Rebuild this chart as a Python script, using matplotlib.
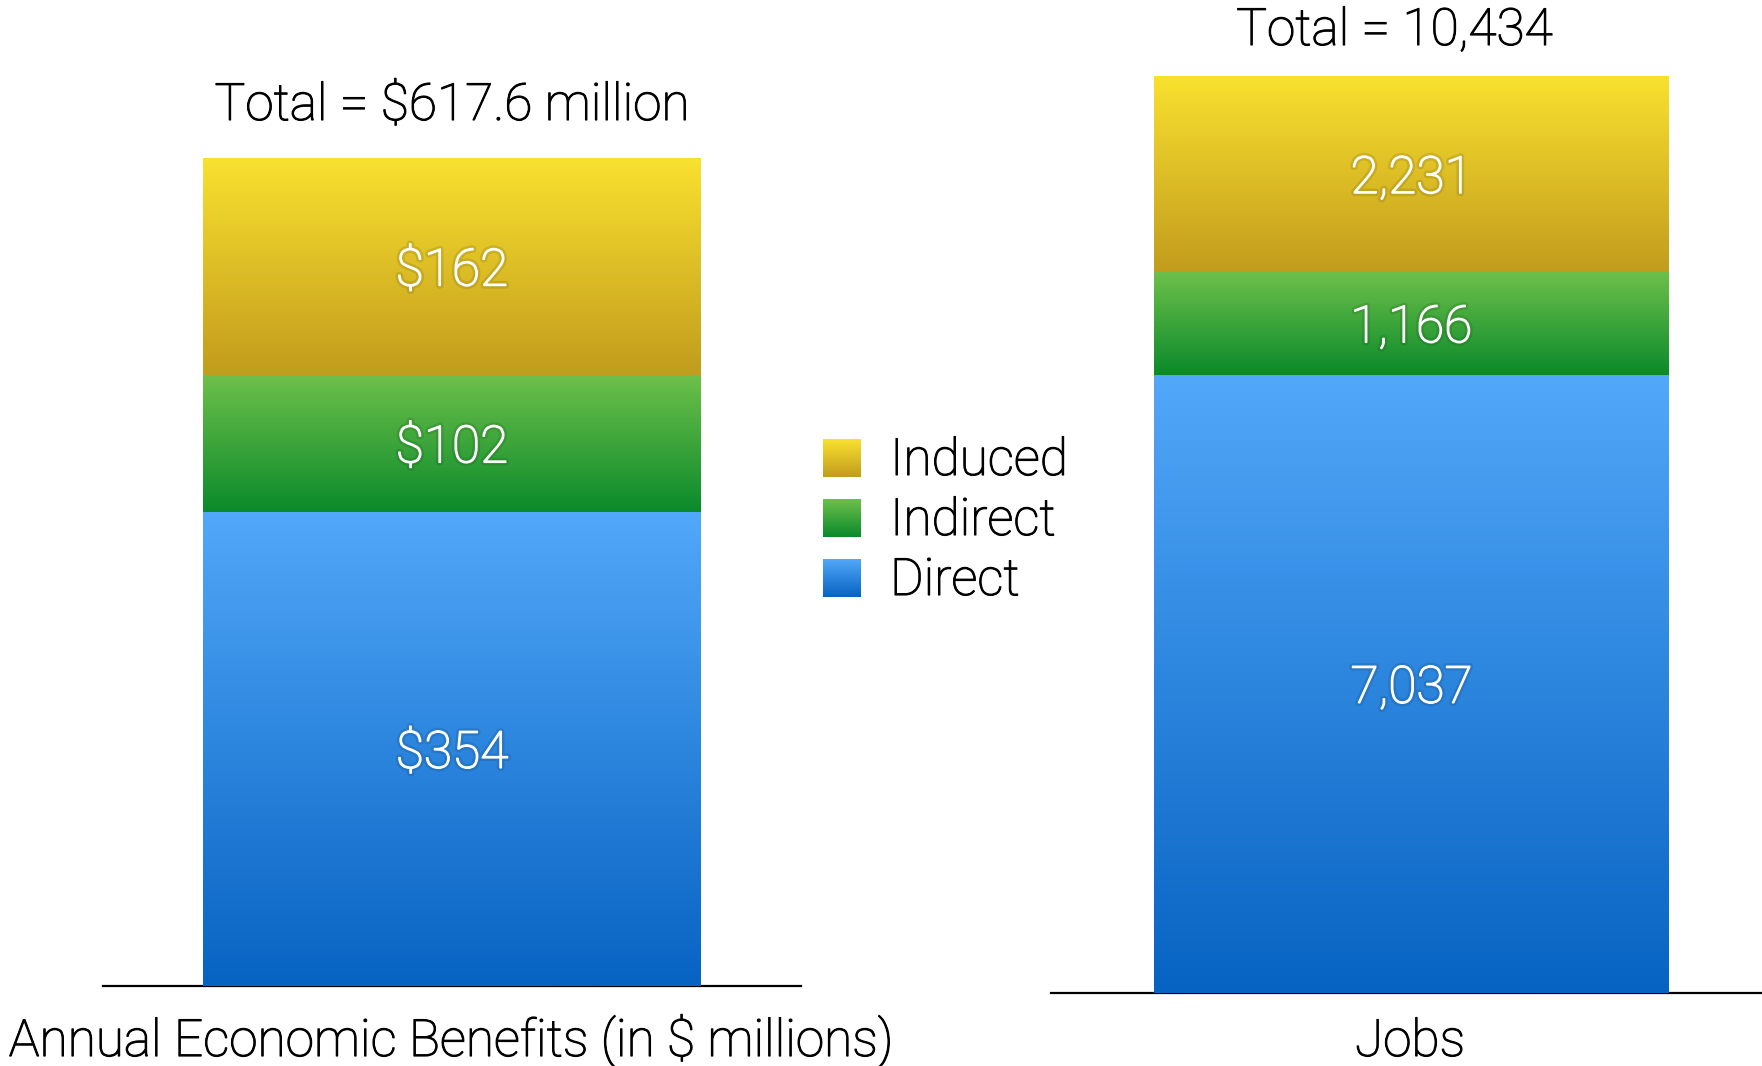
import numpy as np
import matplotlib
matplotlib.use("Agg")
import matplotlib.pyplot as plt
from matplotlib.colors import LinearSegmentedColormap
import matplotlib.patheffects as pe

# ---------------- data ----------------
categories = ["Direct", "Indirect", "Induced"]
benefits = [354, 102, 162]
benefit_labels = ["$354", "$102", "$162"]
jobs = [7037, 1166, 2231]
job_labels = ["7,037", "1,166", "2,231"]
benefits_total_label = "Total = $617.6 million"
jobs_total_label = "Total = 10,434"
x_labels = ["Annual Economic Benefits (in $ millions)", "Jobs"]

# gradient colours (bottom, top)
gradients = {
    "Direct": ("#0763C2", "#52A8F9"),
    "Indirect": ("#0B8A2B", "#6DC04A"),
    "Induced": ("#C29C1D", "#F9E12F"),
}

FONT = ["Roboto", "DejaVu Sans"]
plt.rcParams["font.family"] = FONT
FS = 37
FW = "light"

W, H = 1762, 1066
fig = plt.figure(figsize=(W / 100, H / 100), dpi=100)
fig.patch.set_facecolor("white")


def fx(px):
    return px / W


def fy(py):
    return 1 - py / H


def gradient_image(ax, patch, cat):
    lo, hi = gradients[cat]
    cmap = LinearSegmentedColormap.from_list(cat, [lo, hi])
    x0, y0 = patch.get_x(), patch.get_y()
    im = ax.imshow(np.linspace(0, 1, 256).reshape(-1, 1), cmap=cmap,
                   origin="lower", aspect="auto", zorder=1,
                   extent=(x0, x0 + patch.get_width(), y0, y0 + patch.get_height()))
    im.set_clip_path(patch)
    return im


label_fx = [pe.withStroke(linewidth=4.5, foreground=(0, 0, 0, 0.10)),
            pe.withStroke(linewidth=1.0, foreground="white")]
stroke = [pe.withStroke(linewidth=0.8, foreground="black")]


def stacked(ax, values, labels, total_label, xlim, total_offset):
    bottom = 0
    for cat, v, lab in zip(categories, values, labels):
        bars = ax.bar(0, v, width=1, bottom=bottom, facecolor="none",
                      edgecolor="none", zorder=2)
        gradient_image(ax, bars[0], cat)
        ax.annotate(lab, xy=(0, bottom + v / 2), xytext=(0, -5),
                    textcoords="offset pixels", ha="center", va="center",
                    color="white", fontsize=FS, fontweight=FW, zorder=5,
                    path_effects=label_fx)
        bottom += v
    ax.set_xlim(*xlim)
    ax.set_ylim(0, bottom)
    ax.annotate(total_label, xy=(0, bottom), xytext=total_offset,
                textcoords="offset pixels", ha="center", va="center",
                fontsize=FS, fontweight=FW, color="black",
                annotation_clip=False, path_effects=stroke)
    for s in ["top", "left", "right"]:
        ax.spines[s].set_visible(False)
    ax.spines["bottom"].set_linewidth(1.6)
    ax.spines["bottom"].set_zorder(0)
    ax.set_xticks([])
    ax.set_yticks([])
    ax.patch.set_alpha(0)


# left axes: baseline x 103-801, bar 203-701, bar bottom ~986, top 158
axL = fig.add_axes([fx(103), fy(986), fx(801) - fx(103), fy(158) - fy(986)])
stacked(axL, benefits, benefit_labels, benefits_total_label,
        ((103 - 452) / 498, (801 - 452) / 498), (0, 52))

# right axes: baseline x 1051-1762, bar 1154-1669, bottom 993, top 76
axR = fig.add_axes([fx(1051), fy(993), fx(1762) - fx(1051), fy(76) - fy(993)])
stacked(axR, jobs, job_labels, jobs_total_label,
        ((1051 - 1411.5) / 515, (1762 - 1411.5) / 515), (-17, 45))

fig.text(fx(451), fy(1041), x_labels[0], ha="center", va="center",
         fontsize=FS, fontweight=FW, path_effects=stroke)
fig.text(fx(1410), fy(1042), x_labels[1], ha="center", va="center",
         fontsize=FS, fontweight=FW, path_effects=stroke)

# legend (Induced, Indirect, Direct from top)
axLeg = fig.add_axes([0, 0, 1, 1])
axLeg.set_xlim(0, W)
axLeg.set_ylim(H, 0)
axLeg.axis("off")
axLeg.patch.set_alpha(0)
row_top = [439, 499, 559]
for i, cat in enumerate(categories[::-1]):
    lo, hi = gradients[cat]
    cmap = LinearSegmentedColormap.from_list(cat + "_leg", [lo, hi])
    t = row_top[i]
    axLeg.imshow(np.linspace(0, 1, 64).reshape(-1, 1), cmap=cmap, origin="lower",
                 aspect="auto", extent=(823, 861, t + 38, t))
    axLeg.text(890, t + 22, cat, ha="left", va="center", fontsize=FS,
               fontweight=FW, color="black", path_effects=stroke)
axLeg.set_xlim(0, W)
axLeg.set_ylim(H, 0)

fig.savefig("out.png", dpi=100, facecolor="white")
